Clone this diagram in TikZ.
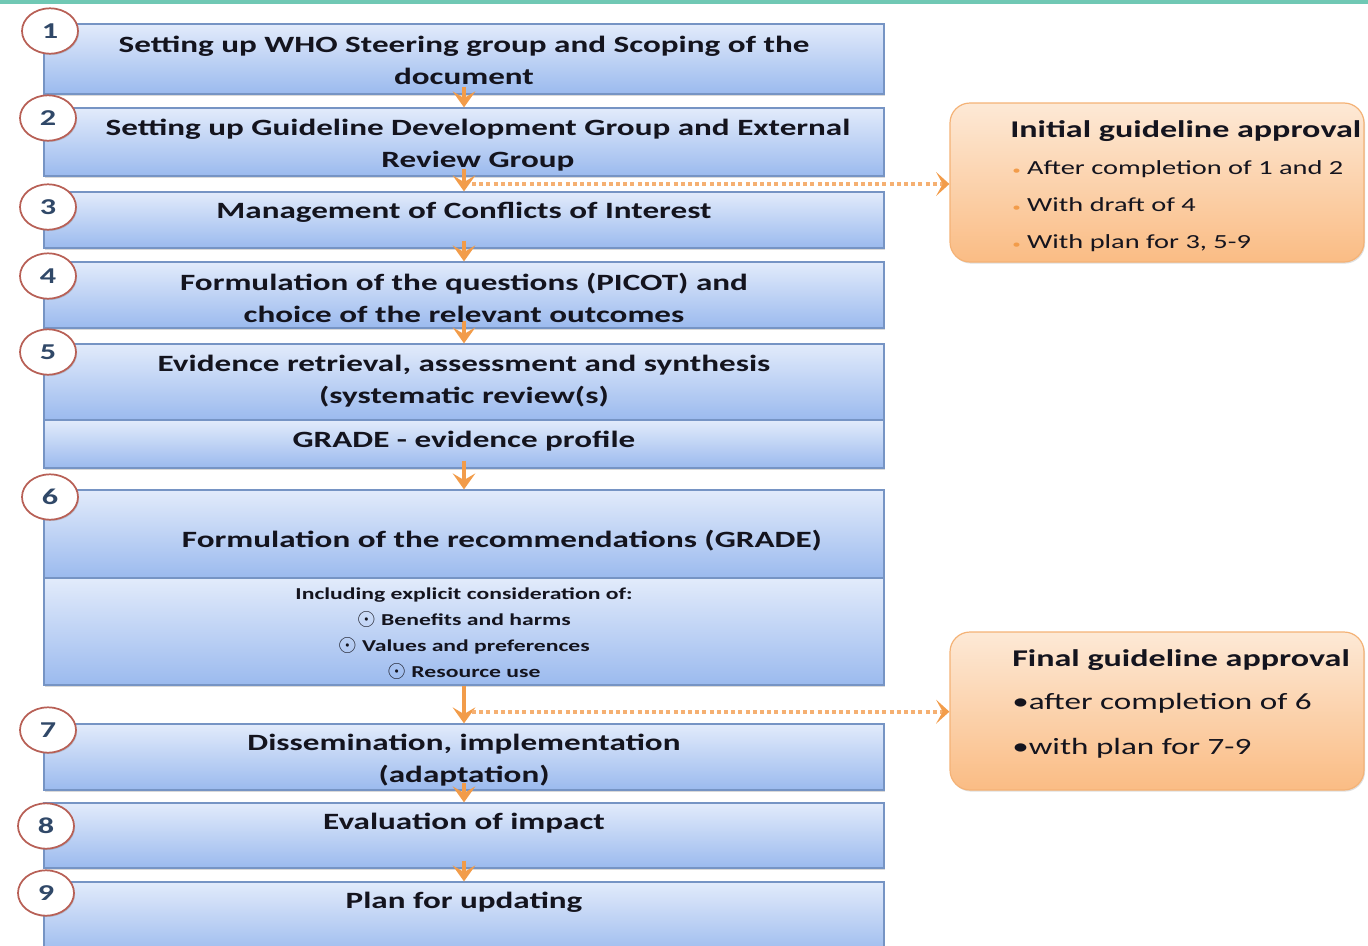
\documentclass[tikz,border=0pt]{standalone}
\usepackage{fontspec}
\setmainfont{Carlito}[FakeStretch=1.42]
\usetikzlibrary{arrows.meta,shapes.geometric,shadows,fit}

\definecolor{boxtop}{RGB}{226,235,251}
\definecolor{boxbot}{RGB}{155,186,238}
\definecolor{boxline}{RGB}{118,148,196}
\definecolor{circline}{RGB}{184,96,86}
\definecolor{numblue}{RGB}{48,72,104}
\definecolor{textdark}{RGB}{20,20,30}
\definecolor{arrorange}{RGB}{242,156,74}
\definecolor{dotorange}{RGB}{245,176,114}
\definecolor{apprtop}{RGB}{253,233,214}
\definecolor{apprbot}{RGB}{250,188,132}
\definecolor{apprline}{RGB}{244,178,118}
\definecolor{teal}{RGB}{112,200,180}

\begin{document}
\begin{tikzpicture}[x=0.75pt,y=0.75pt,yscale=-1,xscale=1,
  stepbox/.style={draw=boxline,line width=0.9pt,top color=boxtop,bottom color=boxbot,inner sep=0pt,
    drop shadow={shadow xshift=0.8pt,shadow yshift=-1.2pt,opacity=0.3}},
  steptext/.style={align=center,text=textdark,inner sep=0pt,font=\bfseries\fontsize{17.5}{24}\selectfont},
  listtext/.style={align=center,text=textdark,inner sep=0pt,font=\bfseries\fontsize{12.5}{19.5}\selectfont},
  numcircle/.style={ellipse,draw=circline,line width=1.3pt,fill=white,minimum width=42pt,minimum height=34pt,
    inner sep=0pt,text=numblue,font=\bfseries\fontsize{17}{17}\selectfont,
    drop shadow={shadow xshift=0.8pt,shadow yshift=-1pt,opacity=0.3}},
  flowarrow/.style={draw=arrorange,line width=2.4pt,-{Stealth[length=12pt,width=17pt,inset=5pt]}},
  shortflow/.style={flowarrow,shorten <=-6pt},
  dotconn/.style={draw=dotorange,line width=3pt,dash pattern=on 3pt off 2.4pt,
    -{Stealth[length=10pt,width=18pt,inset=5pt,color=arrorange]}},
  apprbox/.style={draw=apprline,line width=0.9pt,rounded corners=15pt,top color=apprtop,bottom color=apprbot,
    inner sep=0pt,drop shadow={shadow xshift=0.8pt,shadow yshift=-1.2pt,opacity=0.25}},
  apprtitle/.style={anchor=west,inner sep=0pt,text=textdark,font=\bfseries\fontsize{18}{22}\selectfont},
  ]
\useasboundingbox (0,0) rectangle (1368,946);

%Shape: Top line
\fill [teal] (0,0) rectangle (1368,3.5);

%Shape: Rectangle steps
\node [stepbox,fit={(44,24) (884,94)}] (b1) {};
\node [stepbox,fit={(44,108) (884,176)}] (b2) {};
\node [stepbox,fit={(44,192) (884,248)}] (b3) {};
\node [stepbox,fit={(44,262) (884,328)}] (b4) {};
\node [stepbox,fit={(44,344) (884,420)}] (b5) {};
\node [stepbox,fit={(44,420) (884,468)}] (b5b) {};
\node [stepbox,fit={(44,490) (884,578)}] (b6) {};
\node [stepbox,fit={(44,578) (884,685)}] (b6b) {};
\node [stepbox,fit={(44,724) (884,790)}] (b7) {};
\node [stepbox,fit={(44,803) (884,868)}] (b8) {};
\node [stepbox,fit={(44,882) (884,956)}] (b9) {};

%Shape: Rounded rectangle approvals
\node [apprbox,fit={(950,103) (1364,262)}] (init) {};
\node [apprbox,fit={(950,632) (1364,790)}] (final) {};

%Straight Lines arrows
\draw [shortflow] (b1.south) -- (b2.north);
\draw [shortflow] (b2.south) -- coordinate[pos=0.5] (split2) (b3.north);
\draw [shortflow] (b3.south) -- (b4.north);
\draw [shortflow] (b4.south) -- (b5.north);
\draw [shortflow] (b5b.south) -- (b6.north);
\draw [flowarrow] (b6b.south) -- coordinate[pos=0.69] (split6) (b7.north);
\draw [shortflow] (b7.south) -- (b8.north);
\draw [shortflow] (b8.south) -- (b9.north);

%Straight Lines dotted
\draw [dotconn] ([xshift=6pt]split2) -- (init.west |- split2);
\draw [dotconn] ([xshift=6pt]split6) -- (final.west |- split6);

%Shape: Ellipse numbers
\node [numcircle] (n1) at (50,31) {1};
\node [numcircle] (n2) at (48,118) {2};
\node [numcircle] (n3) at (48,207) {3};
\node [numcircle] (n4) at (48,276) {4};
\node [numcircle] (n5) at (48,352) {5};
\node [numcircle] (n6) at (50,497) {6};
\node [numcircle] (n7) at (48,730) {7};
\node [numcircle] (n8) at (46,826) {8};
\node [numcircle] (n9) at (46,893) {9};

% Text Node
\node [steptext] (t1) at (464,60) {Setting up WHO Steering group and Scoping of the\\document};
\node [steptext] (t2) at (478,145) {Setting up Guideline Development Group and External\\Review Group};
\node [steptext] (t3) at (464,212) {Management of Conflicts of Interest};
\node [steptext] (t4) at (464,298) {Formulation of the questions (PICOT) and\\choice of the relevant outcomes};
\node [steptext] (t5) at (464,381) {Evidence retrieval, assessment and synthesis\\(systematic review(s)};
\node [steptext] (t5b) at (464,441) {GRADE - evidence profile};
\node [steptext] (t6) at (502,541) {Formulation of the recommendations (GRADE)};
\node [listtext] (t6b) at (464,634) {Including explicit consideration of:\\
  \scalebox{1.5}{$\odot$} Benefits and harms\\\scalebox{1.5}{$\odot$} Values and preferences\\\scalebox{1.5}{$\odot$} Resource use};
\node [steptext] (t7) at (464,760) {Dissemination, implementation\\(adaptation)};
\node [steptext] (t8) at (464,823) {Evaluation of impact};
\node [steptext] (t9) at (464,902) {Plan for updating};

% Text Node approvals
\node [apprtitle] (it) at (1010,131) {Initial guideline approval};
\node [anchor=west,align=left,inner sep=0pt,text=textdark,font=\fontsize{15}{27.75}\selectfont] (ii) at (1012,206)
  {{\color{arrorange}\fontsize{9}{9}\selectfont\textbullet}\ After completion of 1 and 2\\
   {\color{arrorange}\fontsize{9}{9}\selectfont\textbullet}\ With draft of 4\\
   {\color{arrorange}\fontsize{9}{9}\selectfont\textbullet}\ With plan for 3, 5-9};
\node [apprtitle] (ft) at (1012,660) {Final guideline approval};
\node [anchor=west,align=left,inner sep=0pt,text=textdark,font=\fontsize{17.5}{34}\selectfont] (fi) at (1012,726)
  {\textbullet{}after completion of 6\\\textbullet{}with plan for 7-9};

\end{tikzpicture}
\end{document}
